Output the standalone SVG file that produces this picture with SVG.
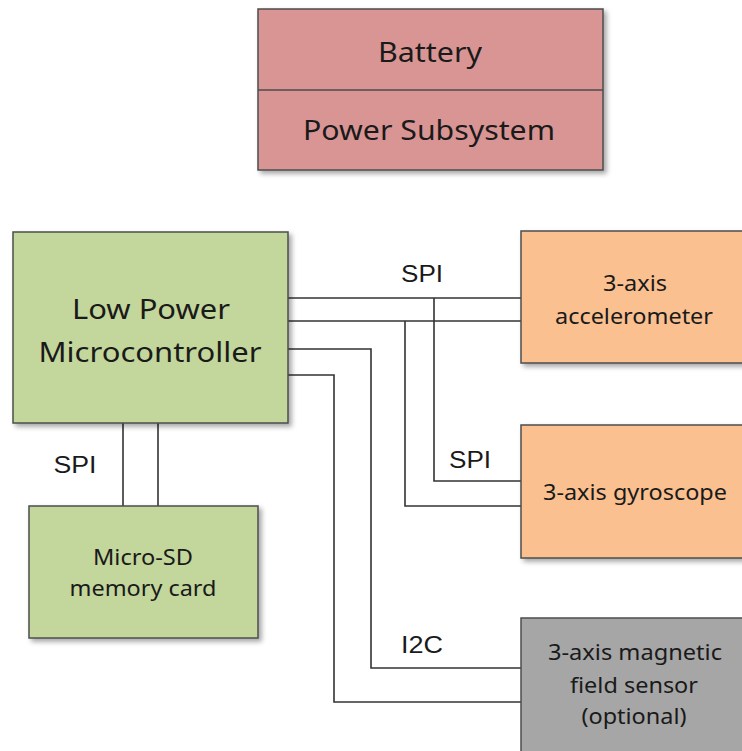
<svg xmlns="http://www.w3.org/2000/svg" width="742" height="751" viewBox="0 0 742 751">
<style>
.box{stroke:#4d4d4d;stroke-width:1.5}
.red{fill:#d99594}
.green{fill:#c3d69b}
.orange{fill:#fac090}
.gray{fill:#a6a6a6}
.t{font-family:"Noto Sans","Open Sans",sans-serif;fill:#1a1a1a;text-anchor:middle}
.big{font-size:27px}
.mid{font-size:21px}
.lbl{font-family:"Liberation Sans",Arial,sans-serif;font-size:24px;fill:#1a1a1a;text-anchor:middle}
.wire{fill:none;stroke:#333;stroke-width:1.6}
</style>
<defs>
<filter id="sh" x="-10%" y="-10%" width="130%" height="130%">
<feDropShadow dx="3" dy="3" stdDeviation="2.5" flood-color="#000" flood-opacity="0.35"/>
</filter>
</defs>
<rect width="742" height="751" fill="#fff"/>
<g id="connectors">
<polyline class="wire" points="288,298 521,298"/>
<polyline class="wire" points="288,321 521,321"/>
<polyline class="wire" points="434,298 434,481 521,481"/>
<polyline class="wire" points="405,321 405,506 521,506"/>
<polyline class="wire" points="288,349 371,349 371,668 521,668"/>
<polyline class="wire" points="288,375 334,375 334,702 521,702"/>
<polyline class="wire" points="123,423 123,506"/>
<polyline class="wire" points="158,423 158,506"/>
<text class="lbl" x="422" y="282" textLength="42" lengthAdjust="spacingAndGlyphs">SPI</text>
<text class="lbl" x="470" y="468" textLength="42" lengthAdjust="spacingAndGlyphs">SPI</text>
<text class="lbl" x="75" y="473" textLength="43" lengthAdjust="spacingAndGlyphs">SPI</text>
<text class="lbl" x="422" y="653" textLength="42" lengthAdjust="spacingAndGlyphs">I2C</text>
</g>
<g id="power">
<rect class="box red" x="258" y="9" width="345" height="161" filter="url(#sh)"/>
<line x1="258" y1="90" x2="603" y2="90" stroke="#4d4d4d" stroke-width="1.5"/>
<text class="t big" x="430" y="62" textLength="104" lengthAdjust="spacingAndGlyphs">Battery</text>
<text class="t big" x="429" y="140" textLength="252" lengthAdjust="spacingAndGlyphs">Power Subsystem</text>
</g>
<g id="mcu">
<rect class="box green" x="13" y="232" width="275" height="191" filter="url(#sh)"/>
<text class="t big" x="151" y="319" textLength="158" lengthAdjust="spacingAndGlyphs">Low Power</text>
<text class="t big" x="150" y="362" textLength="223" lengthAdjust="spacingAndGlyphs">Microcontroller</text>
</g>
<g id="accel">
<rect class="box orange" x="521" y="231" width="226" height="132" filter="url(#sh)"/>
<text class="t mid" x="635" y="291" textLength="64" lengthAdjust="spacingAndGlyphs">3-axis</text>
<text class="t mid" x="634" y="324" textLength="158" lengthAdjust="spacingAndGlyphs">accelerometer</text>
</g>
<g id="gyro">
<rect class="box orange" x="521" y="425" width="226" height="133" filter="url(#sh)"/>
<text class="t mid" x="635" y="500" textLength="184" lengthAdjust="spacingAndGlyphs">3-axis gyroscope</text>
</g>
<g id="sdcard">
<rect class="box green" x="29" y="506" width="229" height="132" filter="url(#sh)"/>
<text class="t mid" x="143" y="565" textLength="100" lengthAdjust="spacingAndGlyphs">Micro-SD</text>
<text class="t mid" x="143" y="596" textLength="147" lengthAdjust="spacingAndGlyphs">memory card</text>
</g>
<g id="magnetic">
<rect class="box gray" x="521" y="618" width="226" height="140"/>
<text class="t mid" x="635" y="660" textLength="174" lengthAdjust="spacingAndGlyphs">3-axis magnetic</text>
<text class="t mid" x="634" y="693" textLength="128" lengthAdjust="spacingAndGlyphs">field sensor</text>
<text class="t mid" x="634" y="724" textLength="105" lengthAdjust="spacingAndGlyphs">(optional)</text>
</g>
</svg>
